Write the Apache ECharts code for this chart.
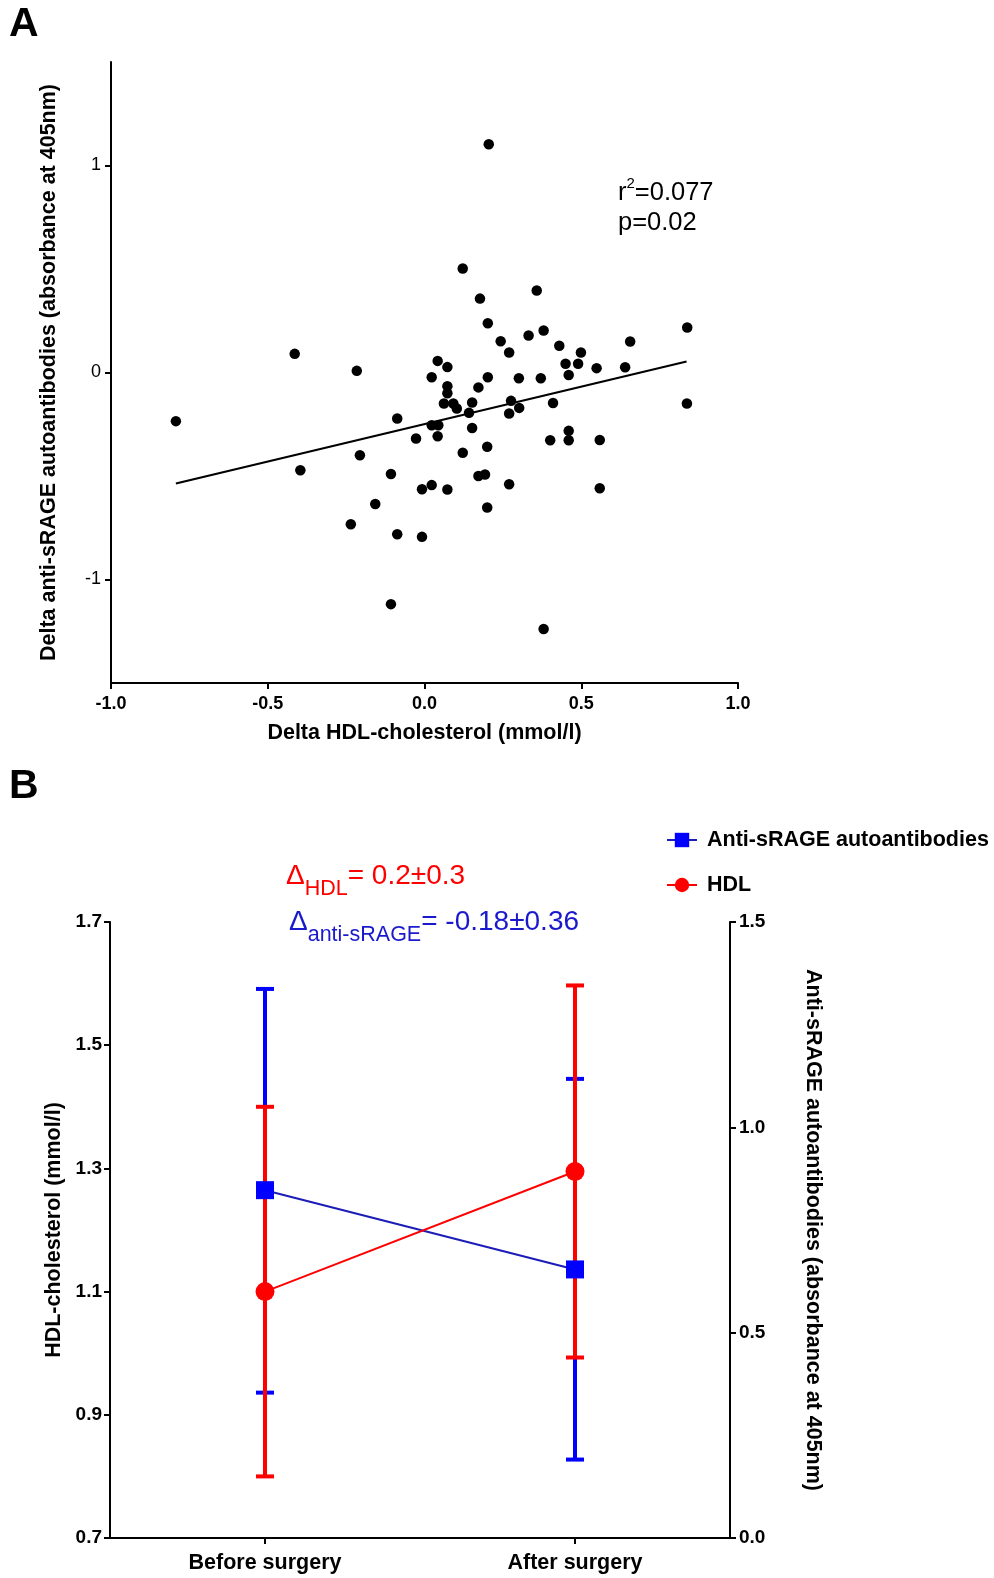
<!DOCTYPE html>
<html>
<head>
<meta charset="utf-8">
<script src="https://cdn.jsdelivr.net/npm/echarts@6/dist/echarts.min.js"></script>
<style>
html,body{margin:0;padding:0;background:#fff;}
#c{width:994px;height:1578px;}
</style>
</head>
<body>
<div id="c"></div>
<script>
// ---------- Panel A data ----------
const scatterX = [-0.793,-0.414,-0.216,-0.396,-0.206,-0.087,-0.107,-0.157,-0.235,-0.087,-0.107,-0.027,-0.008,-0.008,
  0.023,0.042,0.073,0.073,0.073,0.172,0.202,0.301,0.371,0.062,0.092,0.103,0.152,0.142,0.276,0.302,0.270,0.410,0.837,
  0.023,0.044,0.042,0.152,0.401,0.460,0.460,0.559,0.122,0.200,0.023,0.073,0.172,0.193,0.270,0.559,0.200,0.380,
  0.205,0.122,0.177,0.358,0.202,0.243,0.270,0.332,0.380,0.430,0.499,0.450,0.490,0.460,0.549,0.640,0.656,0.838];
const scatterY = [-0.235,0.090,0.008,-0.472,-0.400,-0.222,-0.490,-0.635,-0.733,-0.781,-1.119,-0.319,-0.564,-0.794,
  -0.023,0.056,0.026,-0.066,-0.100,-0.072,-0.023,-0.028,-0.028,-0.150,-0.150,-0.174,-0.145,-0.195,-0.137,-0.171,-0.198,-0.147,-0.150,
  -0.255,-0.255,-0.308,-0.268,-0.327,-0.282,-0.327,-0.326,-0.388,-0.359,-0.544,-0.565,-0.500,-0.493,-0.540,-0.559,-0.652,-1.239,
  1.103,0.502,0.357,0.396,0.238,0.151,0.097,0.179,0.203,0.129,0.097,0.042,0.042,-0.012,0.021,0.025,0.150,0.217];
const fitX = [-0.793, 0.836];
const fitY = [-0.536, 0.053];
const yTicksA = [-1, 0, 1];

// ---------- Panel B data ----------
const categories = ['Before surgery', 'After surgery'];
const hdlMean = [1.1, 1.295];
const hdlLow = [0.8, 0.993];
const hdlHigh = [1.4, 1.597];
const rageMean = [0.847, 0.654];
const rageLow = [0.354, 0.191];
const rageHigh = [1.337, 1.118];
const hdlTicks = [0.7, 0.9, 1.1, 1.3, 1.5, 1.7];

const FONT = '"Liberation Sans", Arial, Helvetica, sans-serif';
const chart = echarts.init(document.getElementById('c'), null, {renderer: 'canvas'});

const scatterData = scatterX.map((x, i) => [x, scatterY[i]]);
const fitData = fitX.map((x, i) => [x, fitY[i]]);

function errBar(color) {
  return function (params, api) {
    const c = api.value(0);
    const lo = api.coord([c, api.value(1)]);
    const hi = api.coord([c, api.value(2)]);
    const half = 9;
    const st = {stroke: color, lineWidth: 4};
    return {
      type: 'group',
      children: [
        {type: 'line', shape: {x1: lo[0], y1: lo[1], x2: hi[0], y2: hi[1]}, style: st},
        {type: 'line', shape: {x1: lo[0] - half, y1: lo[1], x2: lo[0] + half, y2: lo[1]}, style: st},
        {type: 'line', shape: {x1: hi[0] - half, y1: hi[1], x2: hi[0] + half, y2: hi[1]}, style: st}
      ]
    };
  };
}

const axisLineBlack = {show: true, onZero: false, lineStyle: {color: '#000', width: 2}};
const tickBlack = {show: true, length: 6, lineStyle: {color: '#000', width: 2}};
const labelBold = {color: '#000', fontFamily: FONT, fontWeight: 'bold', fontSize: 18};
const nameStyle = {color: '#000', fontFamily: FONT, fontWeight: 'bold', fontSize: 21.5};

const option = {
  animation: false,
  backgroundColor: '#fff',
  textStyle: {fontFamily: FONT},
  grid: [
    {left: 111, right: 256, top: 62, bottom: 895, containLabel: false},
    {left: 110, right: 264, top: 922, bottom: 40, containLabel: false}
  ],
  xAxis: [
    {
      gridIndex: 0, type: 'value', min: -1, max: 1, interval: 0.5,
      axisLine: axisLineBlack, axisTick: tickBlack, splitLine: {show: false},
      axisLabel: Object.assign({}, labelBold, {margin: 12, formatter: v => v.toFixed(1)}),
      name: 'Delta HDL-cholesterol (mmol/l)', nameLocation: 'middle', nameGap: 39,
      nameTextStyle: nameStyle
    },
    {
      gridIndex: 1, type: 'category', data: categories, boundaryGap: true,
      axisLine: axisLineBlack,
      axisTick: {show: true, alignWithLabel: true, length: 6, lineStyle: {color: '#000', width: 2}},
      axisLabel: Object.assign({}, labelBold, {fontSize: 21.5, margin: 14})
    }
  ],
  yAxis: [
    {
      gridIndex: 0, type: 'value', min: -1.5, max: 1.5,
      axisLine: axisLineBlack, splitLine: {show: false},
      axisTick: Object.assign({}, tickBlack, {customValues: yTicksA}),
      axisLabel: Object.assign({}, labelBold, {fontWeight: 'normal', fontSize: 18, margin: 10, customValues: yTicksA, formatter: v => String(v)}),
      name: 'Delta anti-sRAGE autoantibodies (absorbance at 405nm)', nameLocation: 'middle', nameGap: 51,
      nameTextStyle: nameStyle
    },
    {
      gridIndex: 1, type: 'value', min: 0.7, max: 1.7, position: 'left',
      axisLine: axisLineBlack, splitLine: {show: false},
      axisTick: Object.assign({}, tickBlack, {customValues: hdlTicks}),
      axisLabel: Object.assign({}, labelBold, {fontSize: 19, margin: 8, customValues: hdlTicks, formatter: v => v.toFixed(1)}),
      name: 'HDL-cholesterol (mmol/l)', nameLocation: 'middle', nameGap: 42,
      nameTextStyle: nameStyle
    },
    {
      gridIndex: 1, type: 'value', min: 0, max: 1.5, interval: 0.5, position: 'right',
      axisLine: axisLineBlack, splitLine: {show: false},
      axisTick: tickBlack,
      axisLabel: Object.assign({}, labelBold, {fontSize: 19, margin: 9, formatter: v => v.toFixed(1)}),
      name: 'Anti-sRAGE autoantibodies (absorbance at 405nm)', nameLocation: 'middle', nameGap: 72, nameRotate: -90,
      nameTextStyle: nameStyle
    }
  ],
  legend: {
    orient: 'vertical', left: 661, top: 824, itemGap: 23, itemWidth: 30, itemHeight: 18,
    data: ['Anti-sRAGE autoantibodies', 'HDL'],
    textStyle: {color: '#000', fontFamily: FONT, fontWeight: 'bold', fontSize: 21.5, padding: [0, 0, 0, 5]}
  },
  series: [
    {
      type: 'scatter', xAxisIndex: 0, yAxisIndex: 0, data: scatterData,
      symbol: 'circle', symbolSize: 10.5, itemStyle: {color: '#000', opacity: 1}, silent: true
    },
    {
      type: 'line', xAxisIndex: 0, yAxisIndex: 0, data: fitData, showSymbol: false, symbol: 'none',
      lineStyle: {color: '#000', width: 2.2}, silent: true
    },
    {
      type: 'custom', name: 'rageErr', xAxisIndex: 1, yAxisIndex: 2,
      data: categories.map((c, i) => [i, rageLow[i], rageHigh[i]]),
      renderItem: errBar('#0000ff'), silent: true
    },
    {
      type: 'line', name: 'Anti-sRAGE autoantibodies', xAxisIndex: 1, yAxisIndex: 2, data: rageMean,
      symbol: 'rect', symbolSize: 18, showAllSymbol: true,
      itemStyle: {color: '#0000ff', opacity: 1}, lineStyle: {color: '#1c1cb8', width: 2}
    },
    {
      type: 'custom', name: 'hdlErr', xAxisIndex: 1, yAxisIndex: 1,
      data: categories.map((c, i) => [i, hdlLow[i], hdlHigh[i]]),
      renderItem: errBar('#ff0000'), silent: true
    },
    {
      type: 'line', name: 'HDL', xAxisIndex: 1, yAxisIndex: 1, data: hdlMean,
      symbol: 'circle', symbolSize: 19, showAllSymbol: true,
      itemStyle: {color: '#ff0000', opacity: 1}, lineStyle: {color: '#ff0000', width: 2}
    }
  ],
  graphic: [
    {type: 'text', left: 9, top: 4, style: {text: 'A', fontFamily: FONT, fontWeight: 'bold', fontSize: 41, fill: '#000'}},
    {type: 'text', left: 9, top: 766, style: {text: 'B', fontFamily: FONT, fontWeight: 'bold', fontSize: 41, fill: '#000'}},
    {
      type: 'text', left: 618, top: 176,
      style: {
        text: '{m|r}{s|2}{m|=0.077}\n{m|p=0.02}', fill: '#000',
        rich: {
          m: {fontFamily: FONT, fontSize: 25.5, lineHeight: 30, fill: '#000', verticalAlign: 'bottom'},
          s: {fontFamily: FONT, fontSize: 15, lineHeight: 30, fill: '#000', verticalAlign: 'top'}
        }
      }
    },
    {
      type: 'text', left: 286, top: 862,
      style: {
        text: '{m|\u0394}{s|HDL}{m|= 0.2\u00b10.3}', fill: '#ff0000',
        rich: {
          m: {fontFamily: FONT, fontSize: 28, lineHeight: 38, fill: '#ff0000', verticalAlign: 'top'},
          s: {fontFamily: FONT, fontSize: 21.5, lineHeight: 38, fill: '#ff0000', verticalAlign: 'bottom'}
        }
      }
    },
    {
      type: 'text', left: 289, top: 908,
      style: {
        text: '{m|\u0394}{s|anti-sRAGE}{m|= -0.18\u00b10.36}', fill: '#1a1acc',
        rich: {
          m: {fontFamily: FONT, fontSize: 28, lineHeight: 38, fill: '#1a1acc', verticalAlign: 'top'},
          s: {fontFamily: FONT, fontSize: 21.5, lineHeight: 38, fill: '#1a1acc', verticalAlign: 'bottom'}
        }
      }
    }
  ]
};
chart.setOption(option);
</script>
</body>
</html>
